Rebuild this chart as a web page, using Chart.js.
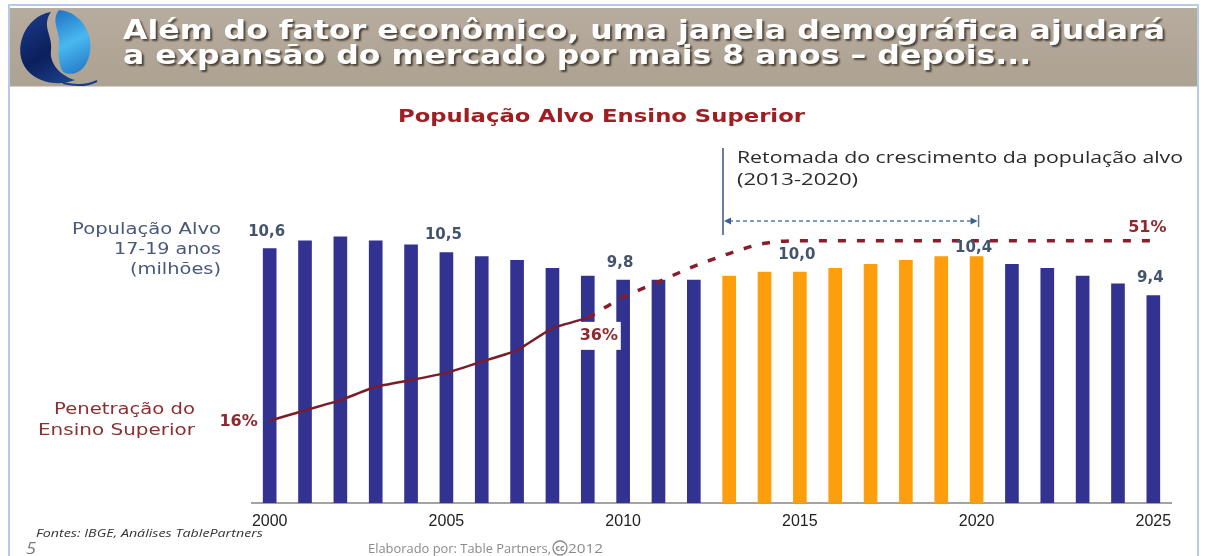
<!DOCTYPE html>
<html>
<head>
<meta charset="utf-8">
<script src="https://cdn.jsdelivr.net/npm/chart.js@4.4.1/dist/chart.umd.min.js"></script>
<style>
  html, body { margin: 0; padding: 0; background: #ffffff; }
  #wrap { position: relative; width: 1206px; height: 556px; }
  canvas { display: block; }
</style>
</head>
<body>
<div id="wrap"><canvas id="c" width="1206" height="556"></canvas></div>
<script>
// ---------------- DATA ----------------
const years = ['2000','2001','2002','2003','2004','2005','2006','2007','2008','2009','2010','2011','2012',
               '2013','2014','2015','2016','2017','2018','2019','2020','2021','2022','2023','2024','2025'];
// População alvo 17-19 anos (milhões)
const populacao = [10.6,10.8,10.9,10.8,10.7,10.5,10.4,10.3,10.1,9.9,9.8,9.8,9.8,
                   9.9,10.0,10.0,10.1,10.2,10.3,10.4,10.4,10.2,10.1,9.9,9.7,9.4];
// Penetração do ensino superior (%), histórico
const penetracao = [16,18,20,22.6,23.9,25.3,27.5,29.7,34,36,
                    null,null,null,null,null,null,null,null,null,null,null,null,null,null,null,null];
// Penetração projetada (%)
const penetracaoProj = [null,null,null,null,null,null,null,null,null,36,40,43,46,48.5,50.5,
                        51,51,51,51,51,51,51,51,51,51,51];
const janelaInicio = '2013';
const janelaFim = '2020';
const popLabelIdx = [0,5,10,15,20,25];
const pctLabels = [{ds:1, i:0, text:'16%'}, {ds:1, i:9, text:'36%'}, {ds:2, i:25, text:'51%'}];

// ---------------- STYLE ----------------
const BLUE = '#323390';
const ORANGE = '#FF9E0C';
const LINE = '#7A1D2B';
const PCT = '#8E2A2E';
const SLATE = '#48587A';

const iIni = years.indexOf(janelaInicio), iFim = years.indexOf(janelaFim);
const barColors = years.map((y, i) => (i >= iIni && i <= iFim) ? ORANGE : BLUE);

function fitText(ctx, text, x, y, w, font, color, align) {
  ctx.save();
  ctx.font = font;
  const m = ctx.measureText(text).width;
  const s = w / m;
  ctx.translate(x, y);
  ctx.scale(s, 1);
  ctx.textAlign = align || 'left';
  ctx.textBaseline = 'alphabetic';
  ctx.fillStyle = color;
  ctx.fillText(text, 0, 0);
  ctx.restore();
  return s;
}

function drawLogo(ctx) {
  ctx.save();
  const cx = 55, cy = 46, r = 36;
  // dark left / bottom swirl
  ctx.beginPath();
  ctx.moveTo(cx - 4, cy - r + 2);
  ctx.bezierCurveTo(cx - 30, cy - 30, cx - 44, cy + 4, cx - 28, cy + 24);
  ctx.bezierCurveTo(cx - 16, cy + 38, cx + 6, cy + 40, cx + 20, cy + 34);
  ctx.bezierCurveTo(cx + 6, cy + 30, cx - 6, cy + 18, cx - 4, cy + 4);
  ctx.bezierCurveTo(cx - 2, cy - 10, cx - 14, cy - 20, cx - 4, cy - r + 2);
  ctx.closePath();
  const g1 = ctx.createLinearGradient(cx - r, cy - r, cx + 10, cy + r);
  g1.addColorStop(0, '#1d3f8f'); g1.addColorStop(0.6, '#0b1f5c'); g1.addColorStop(1, '#1c3f8a');
  ctx.fillStyle = g1; ctx.fill();
  // light right swirl
  ctx.beginPath();
  ctx.moveTo(cx + 4, cy - r);
  ctx.bezierCurveTo(cx + 30, cy - 34, cx + 42, cy - 4, cx + 32, cy + 16);
  ctx.bezierCurveTo(cx + 26, cy + 28, cx + 16, cy + 30, cx + 8, cy + 26);
  ctx.bezierCurveTo(cx + 2, cy + 16, cx + 4, cy + 4, cx + 4, cy - 6);
  ctx.bezierCurveTo(cx + 4, cy - 16, cx - 4, cy - 26, cx + 4, cy - r);
  ctx.closePath();
  const g2 = ctx.createLinearGradient(cx, cy - r, cx + r, cy + r);
  g2.addColorStop(0, '#1f6fc4'); g2.addColorStop(0.45, '#48b8f0'); g2.addColorStop(1, '#1b63b8');
  ctx.fillStyle = g2; ctx.fill();
  // small tail
  ctx.beginPath();
  ctx.moveTo(cx + 8, cy + 37); ctx.quadraticCurveTo(cx + 28, cy + 42, cx + 42, cy + 35);
  ctx.lineWidth = 2; ctx.strokeStyle = '#1a3c86'; ctx.stroke();
  ctx.restore();
}

const decorPlugin = {
  id: 'decor',
  beforeDraw(chart) {
    const ctx = chart.ctx;
    ctx.save();
    ctx.fillStyle = '#ffffff';
    ctx.fillRect(0, 0, chart.width, chart.height);
    // slide border
    ctx.strokeStyle = '#b6cbe8';
    ctx.lineWidth = 2;
    ctx.beginPath();
    ctx.moveTo(9, 556); ctx.lineTo(9, 5); ctx.lineTo(1198, 5); ctx.lineTo(1198, 556);
    ctx.stroke();
    // header band
    const g = ctx.createLinearGradient(0, 8, 0, 87);
    g.addColorStop(0, '#b7ad9f'); g.addColorStop(0.5, '#b1a697'); g.addColorStop(1, '#ada392');
    ctx.fillStyle = g;
    ctx.fillRect(10, 8, 1187, 79);
    ctx.fillStyle = 'rgba(255,255,255,0.5)';
    ctx.fillRect(10, 86, 1187, 2);
    drawLogo(ctx);
    // header text
    ctx.shadowColor = 'rgba(40,30,20,0.75)';
    ctx.shadowOffsetX = 2; ctx.shadowOffsetY = 2; ctx.shadowBlur = 2;
    const hf = 'bold 26px "DejaVu Sans"';
    ctx.font = hf;
    const l1 = 'Além do fator econômico, uma janela demográfica ajudará';
    const l2 = 'a expansão do mercado por mais 8 anos – depois...';
    const s = 1042 / ctx.measureText(l1).width;
    [[l1, 38.5], [l2, 64]].forEach(([t, y]) => {
      ctx.save(); ctx.translate(123, y); ctx.scale(s, 1);
      ctx.fillStyle = '#ffffff'; ctx.textAlign = 'left'; ctx.fillText(t, 0, 0); ctx.restore();
    });
    ctx.restore();

    // chart title
    fitText(ctx, 'População Alvo Ensino Superior', 601.5, 121.5, 407, 'bold 18px "DejaVu Sans"', '#a01d22', 'center');
    // left labels
    fitText(ctx, 'População Alvo', 221, 233.5, 149, '15px "DejaVu Sans"', SLATE, 'right');
    fitText(ctx, '17-19 anos', 221, 254, 107, '15px "DejaVu Sans"', SLATE, 'right');
    fitText(ctx, '(milhões)', 221, 274, 91, '15px "DejaVu Sans"', SLATE, 'right');
    fitText(ctx, 'Penetração do', 195, 414, 141, '15px "DejaVu Sans"', '#8a3030', 'right');
    fitText(ctx, 'Ensino Superior', 195, 435, 157, '15px "DejaVu Sans"', '#8a3030', 'right');
    // footer
    fitText(ctx, 'Fontes: IBGE, Análises TablePartners', 36, 537, 227, 'italic 11px "Open Sans"', '#333333', 'left');
    fitText(ctx, '5', 26, 554, 10, 'italic 17px "Open Sans"', '#7a7a7a', 'left');
    fitText(ctx, 'Elaborado por: Table Partners,', 368, 553, 183, '13px "Open Sans"', '#8a8a8a', 'left');
    ctx.save();
    ctx.strokeStyle = '#8a8a8a'; ctx.lineWidth = 1.3;
    ctx.beginPath(); ctx.arc(560, 548, 7, 0, Math.PI * 2); ctx.stroke();
    ctx.restore();
    fitText(ctx, 'cc', 560, 551, 9, 'bold 9px "DejaVu Sans"', '#8a8a8a', 'center');
    fitText(ctx, '2012', 568, 553, 35, '13px "Open Sans"', '#8a8a8a', 'left');

    // annotation: retomada
    ctx.save();
    ctx.strokeStyle = '#6a7ea2'; ctx.lineWidth = 2;
    ctx.beginPath(); ctx.moveTo(723, 148); ctx.lineTo(723, 235); ctx.stroke();
    ctx.restore();
    fitText(ctx, 'Retomada do crescimento da população alvo', 737, 163, 446, '16px "Open Sans"', '#2a2a2a', 'left');
    fitText(ctx, '(2013-2020)', 737, 185, 121, '16px "Open Sans"', '#2a2a2a', 'left');
    ctx.restore();
  },
  afterDatasetsDraw(chart) {
    const ctx = chart.ctx;
    const bars = chart.getDatasetMeta(0).data;
    // horizontal arrow over the window
    const xa = 723, xb = bars[iFim].x + 2, ya = 221;
    ctx.save();
    ctx.strokeStyle = '#5a79a8'; ctx.fillStyle = '#3f5f92'; ctx.lineWidth = 1.5;
    ctx.setLineDash([4, 3]);
    ctx.beginPath(); ctx.moveTo(xa + 6, ya); ctx.lineTo(xb - 6, ya); ctx.stroke();
    ctx.setLineDash([]);
    ctx.beginPath(); ctx.moveTo(xa + 1, ya); ctx.lineTo(xa + 8, ya - 3.5); ctx.lineTo(xa + 8, ya + 3.5); ctx.closePath(); ctx.fill();
    ctx.beginPath(); ctx.moveTo(xb - 1, ya); ctx.lineTo(xb - 8, ya - 3.5); ctx.lineTo(xb - 8, ya + 3.5); ctx.closePath(); ctx.fill();
    ctx.lineWidth = 1.5; ctx.beginPath(); ctx.moveTo(xb, ya - 6); ctx.lineTo(xb, ya + 6); ctx.stroke();
    ctx.restore();

    // population labels
    ctx.save();
    ctx.font = 'bold 15px "DejaVu Sans"';
    ctx.fillStyle = '#44546c';
    ctx.textAlign = 'center'; ctx.textBaseline = 'middle';
    popLabelIdx.forEach(i => {
      const b = bars[i];
      const off = (i === iFim) ? 8 : 17;
      ctx.fillText(populacao[i].toFixed(1).replace('.', ','), b.x - 3, b.y - off);
    });
    ctx.restore();

    // percentage labels
    ctx.save();
    ctx.font = 'bold 16px "DejaVu Sans"';
    ctx.textBaseline = 'middle';
    pctLabels.forEach(p => {
      const pt = chart.getDatasetMeta(p.ds).data[p.i];
      if (p.i === 0) {
        ctx.fillStyle = PCT; ctx.textAlign = 'right';
        ctx.fillText(p.text, pt.x - 12, pt.y + 1);
      } else if (p.ds === 1) {
        const cx = pt.x + 11, cy = pt.y + 18;
        ctx.fillStyle = '#ffffff';
        ctx.fillRect(cx - 20, cy - 14, 42, 28);
        ctx.fillStyle = PCT; ctx.textAlign = 'center';
        ctx.fillText(p.text, cx, cy);
      } else {
        ctx.fillStyle = PCT; ctx.textAlign = 'center';
        ctx.fillText(p.text, pt.x - 6, pt.y - 13);
      }
    });
    ctx.restore();
  }
};

new Chart(document.getElementById('c'), {
  data: {
    labels: years,
    datasets: [
      {
        type: 'bar', label: 'População Alvo', data: populacao,
        backgroundColor: barColors, borderWidth: 0, barThickness: 13,
        yAxisID: 'y', order: 3
      },
      {
        type: 'line', label: 'Penetração', data: penetracao,
        borderColor: LINE, borderWidth: 2.5, pointRadius: 0, fill: false,
        tension: 0.1, spanGaps: false,
        yAxisID: 'y2', order: 1
      },
      {
        type: 'line', label: 'Penetração projetada', data: penetracaoProj,
        borderColor: '#8a1c2c', borderWidth: 3.5, borderDash: [8, 11], pointRadius: 0, fill: false,
        cubicInterpolationMode: 'monotone', spanGaps: false,
        yAxisID: 'y2', order: 2
      }
    ]
  },
  options: {
    responsive: false,
    animation: false,
    events: [],
    layout: { padding: { left: 252, right: 35, top: 143, bottom: 23 } },
    plugins: { legend: { display: false }, tooltip: { enabled: false }, title: { display: false } },
    scales: {
      x: {
        type: 'category', offset: true,
        grid: { display: false, drawTicks: false },
        border: { display: true, color: '#a3a3a3', width: 2 },
        ticks: {
          autoSkip: false, maxRotation: 0, padding: 9,
          color: '#222222', font: { family: '"Liberation Sans", Arial', size: 16 },
          callback: function (v, i) { const y = this.getLabelForValue(v); return (parseInt(y) % 5 === 0) ? y : ''; }
        },
        afterFit: (scale) => { scale.height = 30; }
      },
      y: { display: false, min: 4.1, max: 13.3 },
      y2: { display: false, min: 0, max: 70 }
    }
  },
  plugins: [decorPlugin]
});
</script>
</body>
</html>
